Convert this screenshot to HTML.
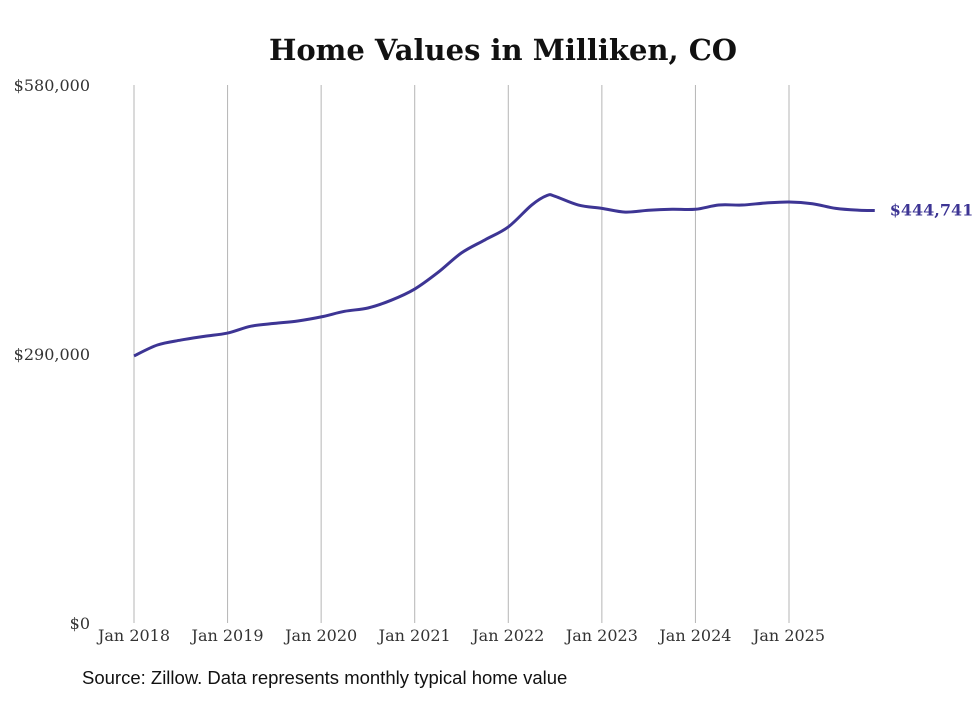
<!DOCTYPE html>
<html><head><meta charset="utf-8"><style>
body{margin:0;background:#fff;}
svg text{font-family:"DejaVu Serif","Liberation Serif",serif;}
</style></head><body>
<svg id="chart" width="980" height="699" xmlns="http://www.w3.org/2000/svg">
<text x="503" y="60" text-anchor="middle" font-size="29" font-weight="bold" fill="#111">Home Values in Milliken, CO</text>
<g id="grid"></g>
<g id="yaxis"></g>
<g id="xaxis"></g>
<path id="line" fill="none" stroke="#3d3594" stroke-width="3"/>
<text id="endlabel" font-size="16" font-weight="bold" fill="#3d3594"></text>
<text x="82" y="684" font-size="18.5" fill="#111" style="font-family:'Liberation Sans',sans-serif">Source: Zillow. Data represents monthly typical home value</text>
</svg>
<script>
// months since Jan 2018
const months=[0,3,6,9,12,15,18,21,24,27,30,33,36,39,42,45,48,51,53,54,57,60,63,66,69,72,75,78,81,84,87,90,93,95];
const values=[287900,299700,305000,309000,312600,320000,323000,325600,330000,336000,339600,348000,360000,378000,399000,413000,427000,450600,461000,460000,450600,447000,443000,445000,446000,446000,450600,450600,452800,453900,452000,447000,445000,444741];
const yTicks=[0,290000,580000];
const yTickLabels=["$0","$290,000","$580,000"];
const xYears=[2018,2019,2020,2021,2022,2023,2024,2025];
const lastLabel="$444,741";
const svg=document.getElementById('chart');const NS="http://www.w3.org/2000/svg";
const x0=134,pxPerMonth=(789-134)/84;
const xS=m=>x0+m*pxPerMonth;
const yS=v=>623-v/580000*538;
const grid=document.getElementById('grid'),ya=document.getElementById('yaxis'),xa=document.getElementById('xaxis');
xYears.forEach((yr,i)=>{
 const x=xS(i*12);
 const l=document.createElementNS(NS,'line');
 
 
 l.setAttribute('x1',x);l.setAttribute('x2',x);l.setAttribute('y1',85);l.setAttribute('y2',623);l.setAttribute('stroke','#b5b5b5');l.setAttribute('stroke-width','1');
 grid.appendChild(l);
 const t=document.createElementNS(NS,'text');
 
 
 t.setAttribute('x',x);t.setAttribute('y',641);t.setAttribute('text-anchor','middle');t.setAttribute('font-size','16');t.setAttribute('fill','#333');
 t.textContent='Jan '+yr;xa.appendChild(t);
});
yTicks.forEach((v,i)=>{
 const t=document.createElementNS(NS,'text');
 
 
 t.setAttribute('x',90);t.setAttribute('y',yS(v)+6);t.setAttribute('text-anchor','end');t.setAttribute('font-size','16');t.setAttribute('fill','#333');
 t.textContent=yTickLabels[i];ya.appendChild(t);
});
const pts=months.map((m,i)=>[xS(m),yS(values[i])]);
let d='M'+pts[0][0]+','+pts[0][1];
for(let i=0;i<pts.length-1;i++){
 const p0=pts[Math.max(0,i-1)],p1=pts[i],p2=pts[i+1],p3=pts[Math.min(pts.length-1,i+2)];
 const c1=[p1[0]+(p2[0]-p0[0])/6,p1[1]+(p2[1]-p0[1])/6],c2=[p2[0]-(p3[0]-p1[0])/6,p2[1]-(p3[1]-p1[1])/6];
 d+=' C'+c1+' '+c2+' '+p2;
}
document.getElementById('line').setAttribute('d',d);
const el=document.getElementById('endlabel');const lp=pts[pts.length-1];
el.setAttribute('x',lp[0]+15);el.setAttribute('y',lp[1]+5);el.textContent=lastLabel;
</script>
</body></html>
